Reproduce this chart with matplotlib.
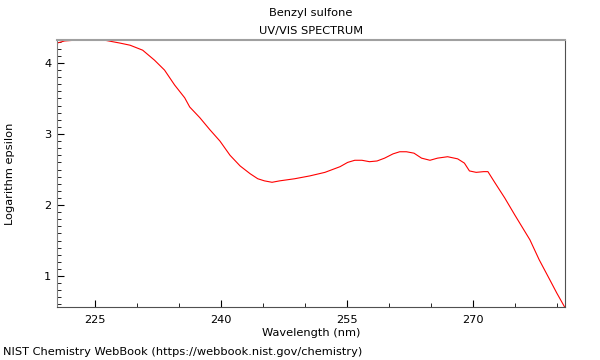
import matplotlib
matplotlib.use("Agg")
import matplotlib.pyplot as plt
from matplotlib.ticker import MultipleLocator

# spectrum (wavelength in nm, log epsilon)
wavelength = [220.5, 221.4, 222.6, 225.0, 226.2, 228.0, 229.2, 230.7, 232.1, 233.3,
              234.5, 235.7, 236.3, 237.5, 238.7, 239.9, 241.1, 242.3, 243.5, 244.4,
              245.2, 246.1, 247.0, 248.8, 250.6, 252.4, 254.2, 255.1, 255.95, 256.8,
              257.7, 258.6, 259.5, 260.5, 261.3, 262.1, 263.0, 263.9, 264.9, 265.8,
              267.0, 268.2, 269.0, 269.6, 270.4, 271.3, 271.8, 272.6, 273.8, 275.0,
              276.8, 277.9, 279.2, 280.0, 281.0]
log_eps = [4.28, 4.31, 4.32, 4.32, 4.32, 4.28, 4.25, 4.18, 4.04, 3.90,
           3.69, 3.51, 3.38, 3.23, 3.06, 2.90, 2.70, 2.55, 2.44, 2.37,
           2.34, 2.32, 2.34, 2.37, 2.41, 2.46, 2.54, 2.60, 2.63, 2.63,
           2.61, 2.62, 2.66, 2.72, 2.75, 2.75, 2.73, 2.66, 2.63, 2.66,
           2.68, 2.65, 2.59, 2.48, 2.46, 2.47, 2.47, 2.32, 2.10, 1.86,
           1.51, 1.23, 0.94, 0.76, 0.55]

fs = 8.2

fig = plt.figure(figsize=(6, 3.6), dpi=100)
ax = fig.add_axes([0.095, 0.147, 0.847, 0.742])

ax.plot(wavelength, log_eps, color="red", lw=0.8)

ax.set_xlim(220.5, 281.0)
ax.set_ylim(0.563, 4.324)
ax.xaxis.set_major_locator(MultipleLocator(15))
ax.xaxis.set_minor_locator(MultipleLocator(5))
ax.yaxis.set_major_locator(MultipleLocator(1))
ax.yaxis.set_minor_locator(MultipleLocator(0.1))
ax.tick_params(which="both", direction="in", labelsize=fs, pad=4)
ax.tick_params(axis="x", pad=5.5)
ax.tick_params(which="major", length=5)
ax.tick_params(which="minor", length=3)

ax.spines["top"].set_color("#a0a0a0")
ax.spines["top"].set_linewidth(1.5)
ax.spines["left"].set_color("#808080")
ax.spines["right"].set_color("#505050")
ax.spines["bottom"].set_color("#505050")

ax.set_xlabel("Wavelength (nm)", fontsize=fs, labelpad=2.5)
ax.set_ylabel("Logarithm epsilon", fontsize=fs, labelpad=21)
ax.set_title("Benzyl sulfone\nUV/VIS SPECTRUM", fontsize=fs, pad=4, linespacing=2.0)

fig.text(0.005, 0.015, "NIST Chemistry WebBook (https://webbook.nist.gov/chemistry)", fontsize=fs)

fig.savefig("out.png", dpi=100)
